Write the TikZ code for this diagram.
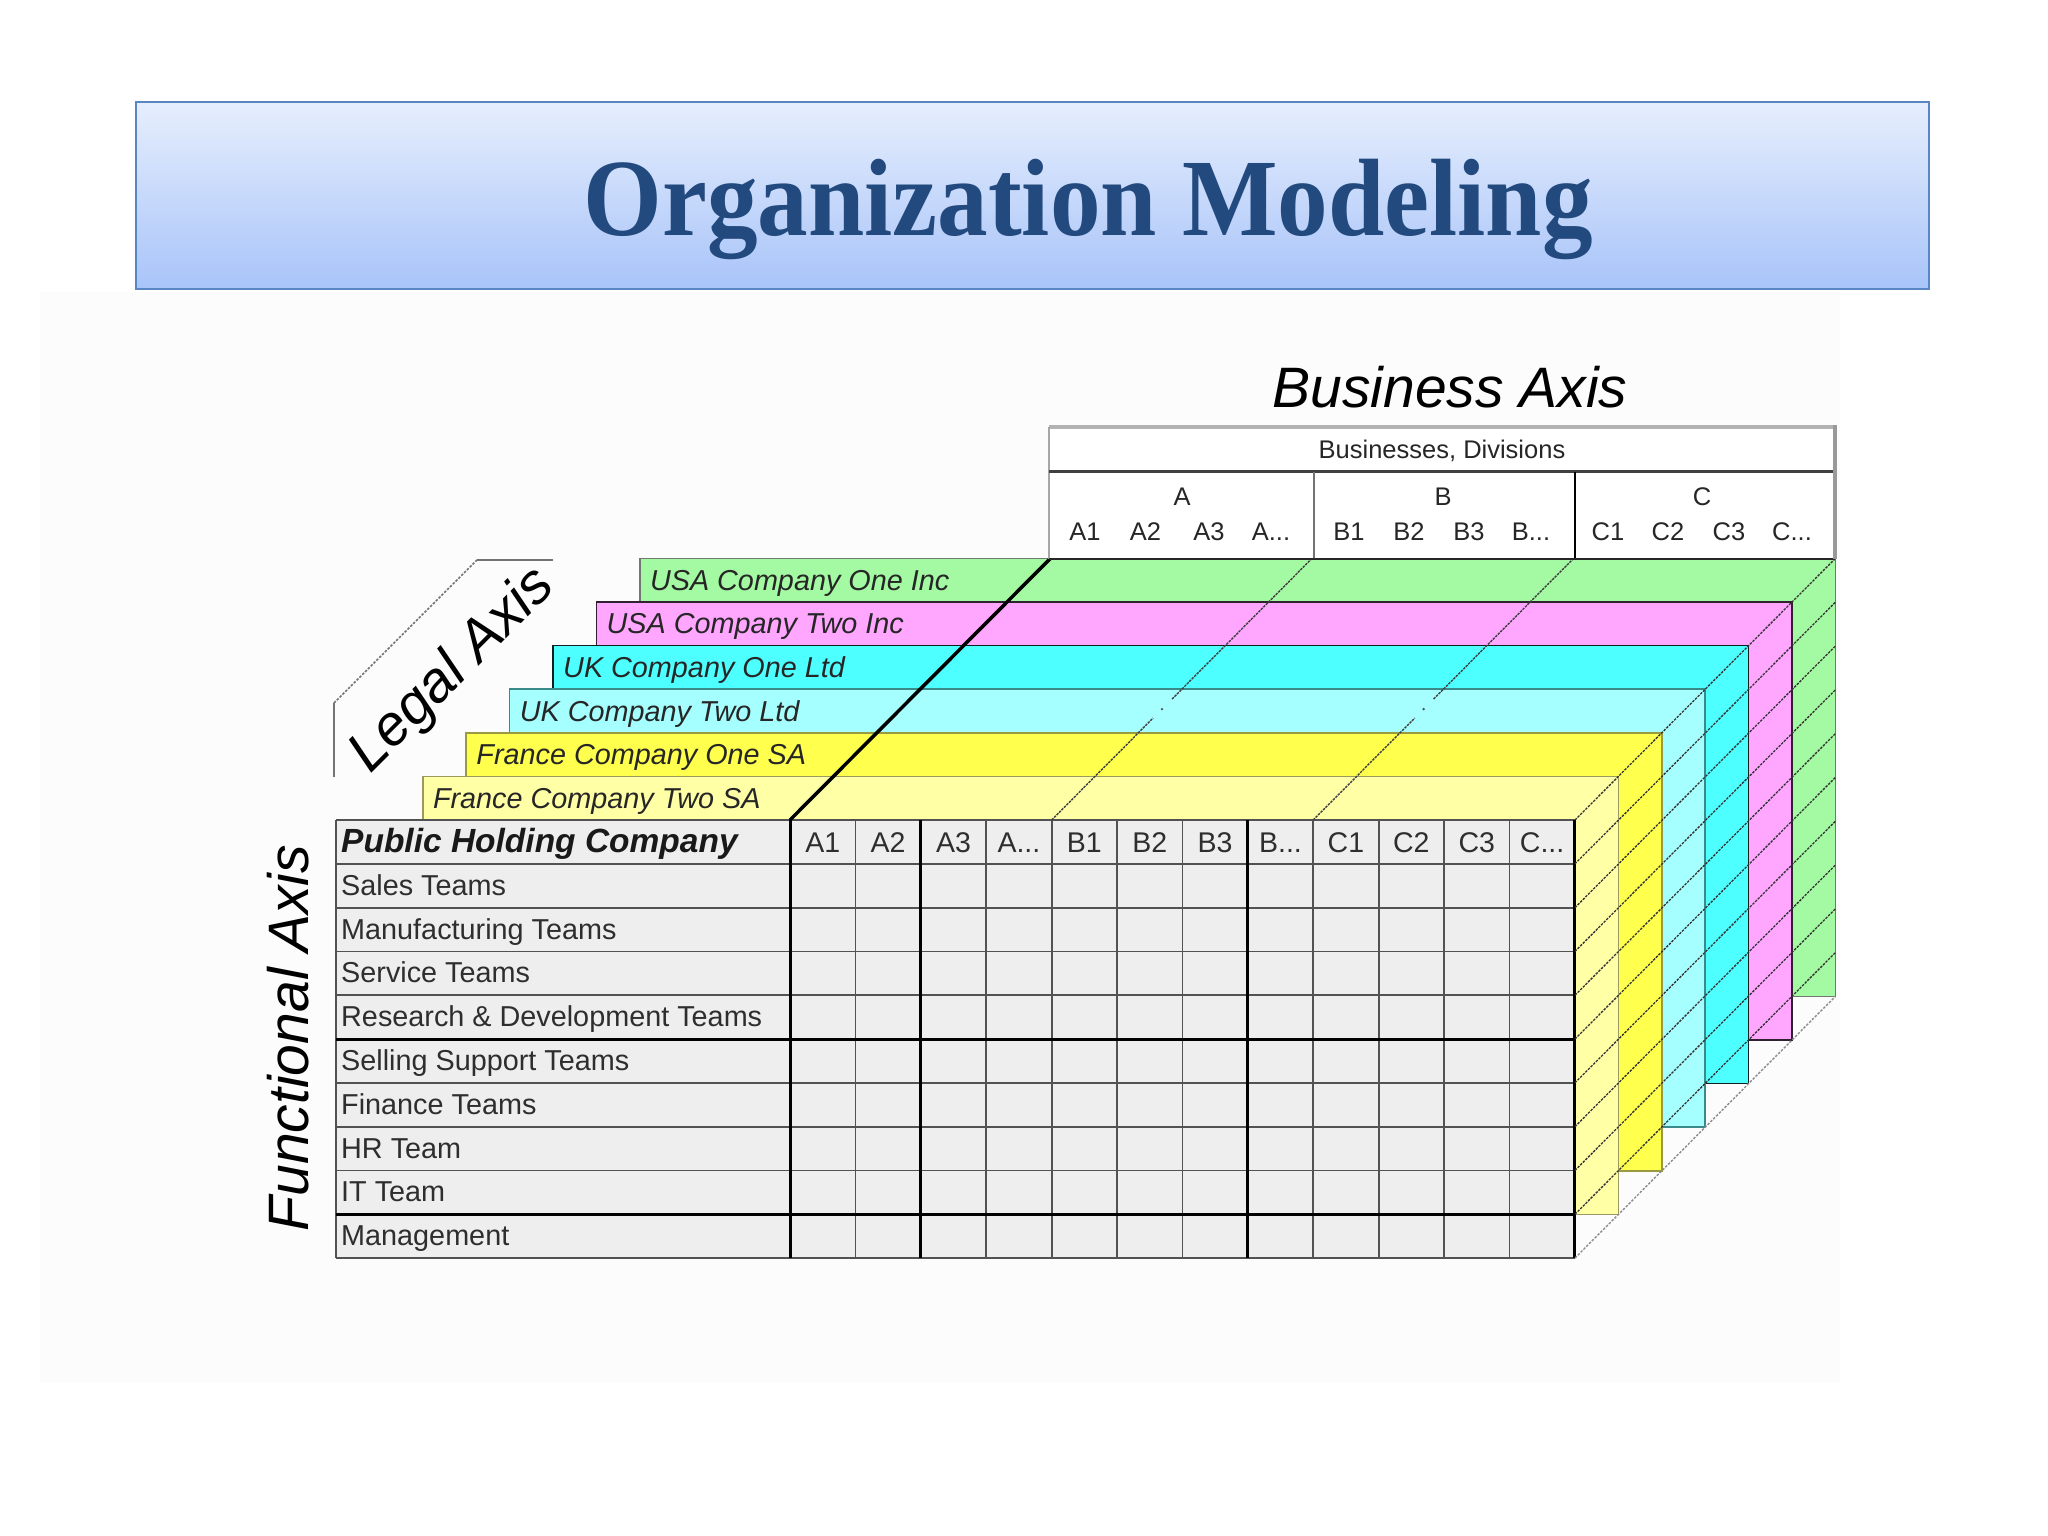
\documentclass[tikz,border=0pt]{standalone}
\usepackage{fontspec}
\setmainfont{Liberation Sans}
\newfontfamily\titlefont[FakeStretch=0.92]{Liberation Serif}
\usetikzlibrary{calc}
\newcommand{\mydots}{...}
\definecolor{ttlblue}{HTML}{234A7E}
\definecolor{ttltop}{HTML}{E6EEFD}
\definecolor{ttlbot}{HTML}{A8C4F9}
\definecolor{ttlborder}{HTML}{5A86C4}
\definecolor{cgreen}{HTML}{A4FAA2}
\definecolor{cpink}{HTML}{FFA6FF}
\definecolor{ccyan}{HTML}{4EFFFF}
\definecolor{clcyan}{HTML}{A6FFFF}
\definecolor{cyellow}{HTML}{FFFF4E}
\definecolor{clyellow}{HTML}{FFFFA6}
\definecolor{bgreen}{HTML}{707870}
\definecolor{bpink}{HTML}{302030}
\definecolor{bcyan}{HTML}{102020}
\definecolor{blcyan}{HTML}{3A8A8A}
\definecolor{byellow}{HTML}{9A9A40}
\definecolor{blyellow}{HTML}{9A9A60}
\definecolor{cellgray}{HTML}{EEEEEE}
\definecolor{bgfaint}{HTML}{FCFCFC}
\tikzset{
  titlebox/.style={draw=ttlborder, line width=2.5pt, top color=ttltop, bottom color=ttlbot, inner sep=0},
  titletext/.style={font=\titlefont\bfseries\fontsize{110}{115}\selectfont, text=ttlblue, inner sep=0},
  bandtext/.style={font=\fontsize{28.8}{30}\selectfont\itshape, inner sep=0, text=black!85},
  rowtext/.style={font=\fontsize{28.8}{30}\selectfont, inner sep=0, text=black!82},
  phctext/.style={font=\fontsize{33.5}{35}\selectfont\bfseries\itshape, inner sep=0, text=black!90},
  coltext/.style={font=\fontsize{28.5}{30}\selectfont, inner sep=0, text=black!82},
  hdrtext/.style={font=\fontsize{25.5}{27}\selectfont, inner sep=0, text=black!85},
  axistext/.style={font=\fontsize{57}{60}\selectfont\itshape, inner sep=0},
  gridline/.style={draw=black!68, line width=1.8pt},
  gridbold/.style={draw=black, line width=3pt},
  rowdiag/.style={draw=black!80, line width=1.3pt, dash pattern=on 2.5pt off 1.2pt},
  thindiag/.style={draw=black!75, line width=1.4pt, dash pattern=on 2.5pt off 1pt},
  botdiag/.style={draw=black!45, line width=1.4pt, dash pattern=on 2.5pt off 1.5pt},
  bracket/.style={draw=black!55, line width=1.5pt},
}
\begin{document}
\begin{tikzpicture}[x=1pt,y=-1pt]
\useasboundingbox (0,0) rectangle (2048,1536);
\fill[white] (0,0) rectangle (2048,1536);
\fill[bgfaint] (40,292) rectangle (1840,1383);

% title
\node[titlebox, minimum width=1793pt, minimum height=187pt] (titlebox) at (1032.5,195.5) {};
\node[titletext, anchor=base] (title) at (1088,235) {Organization Modeling};

% legal-entity panels (back to front)
\foreach \k/\fc/\bc/\lbl in {6/cgreen/bgreen/USA Company One Inc,
                              5/cpink/bpink/USA Company Two Inc,
                              4/ccyan/bcyan/UK Company One Ltd,
                              3/clcyan/blcyan/UK Company Two Ltd,
                              2/cyellow/byellow/France Company One SA,
                              1/clyellow/blyellow/France Company Two SA}{
  \pgfmathsetmacro\lx{336+43.4*(\k+1)}
  \pgfmathsetmacro\rx{1575+43.4*\k}
  \pgfmathsetmacro\ty{820-43.6*\k}
  \pgfmathsetmacro\by{1258-43.6*\k}
  \pgfmathsetmacro\bl{\ty+21.8+10}
  \draw[fill=\fc, draw=\bc, line width=1.6pt] (\lx,\ty) rectangle (\rx,\by);
  \node[bandtext, anchor=base west] (band\k) at (\lx+10,\bl) {\lbl};
}

% front grid
\fill[cellgray] (336,820) rectangle (1575,1258);
\foreach \i in {0,1,2,3,4,6,7,8,10}
  \draw[gridline] (336,820+43.8*\i) -- (1575,820+43.8*\i);
\draw[gridline] (336,820) -- (336,1258);
\foreach \j in {1,3,4,5,6,8,9,10,11}
  \draw[gridline] (790+65.4*\j,820) -- (790+65.4*\j,1258);
\foreach \i in {5,9}
  \draw[gridbold] (336,820+43.8*\i) -- (1575,820+43.8*\i);
\foreach \j in {0,2,7,12}
  \draw[gridbold] (790+65.4*\j,820) -- (790+65.4*\j,1258);

% row labels
\node[phctext, anchor=base west] (row0) at (341,852.5) {Public Holding Company};
\foreach \i/\t in {1/Sales Teams, 2/Manufacturing Teams, 3/Service Teams,
                   4/Research \& Development Teams, 5/Selling Support Teams,
                   6/Finance Teams, 7/HR Team, 8/IT Team, 9/Management}
  \node[rowtext, anchor=base west] (row\i) at (341,820+43.8*\i+21.9+9.5) {\t};

% column labels
\foreach \j/\t in {0/A1,1/A2,2/A3,3/A\mydots,4/B1,5/B2,6/B3,7/B\mydots,8/C1,9/C2,10/C3,11/C\mydots}
  \node[coltext, anchor=base] (col\j) at (790+65.4*\j+32.7,852) {\t};

% side diagonals (functional rows through the legal layers)
\foreach \i in {0,1,2,3,4,5,6,7,8,9}
  \draw[rowdiag] (1575,820+43.8*\i) -- ++(260.4,-261.6);
\draw[botdiag] (1575,1258) -- ++(260.4,-261.6);

% top diagonals
\coordinate (ta) at (790,820);
\coordinate (tb) at (1050.4,558.4);
\draw[black, line width=3.5pt] (ta) -- (tb);
\coordinate (b0) at (1051.6,820);
\coordinate (b1) at (1312,558.4);
\coordinate (c0) at (1313.2,820);
\coordinate (c1) at (1573.6,558.4);
\draw[thindiag] (b0) -- ($(b0)!0.39!(b1)$);
\draw[thindiag] ($(b0)!0.4625!(b1)$) -- (b1);
\fill[black!70] ($(b0)!0.424!(b1)$) circle (1.3);
\draw[thindiag] (c0) -- ($(c0)!0.39!(c1)$);
\draw[thindiag] ($(c0)!0.4625!(c1)$) -- (c1);
\fill[black!70] ($(c0)!0.424!(c1)$) circle (1.3);

% business header
\fill[white] (1049,427) rectangle (1835,559);
\draw[draw=black!30, line width=4pt] (1049,427) -- (1835,427);
\draw[draw=black!35, line width=1.5pt] (1049,427) -- (1049,559);
\draw[draw=black!75, line width=3pt] (1049,471.5) -- (1835,471.5);
\draw[draw=black!55, line width=2pt] (1314,471.5) -- (1314,559);
\draw[draw=black, line width=2.5pt] (1575,471.5) -- (1575,559);
\draw[draw=black!85, line width=2.5pt] (1049,559) -- (1835,559);
\draw[draw=black!40, line width=4pt] (1835,425) -- (1835,559);
\node[hdrtext, anchor=base] (bizdiv) at (1442,458) {Businesses, Divisions};
\node[hdrtext, anchor=base] (grpA) at (1182,505.5) {A};
\node[hdrtext, anchor=base] (grpB) at (1443,505.5) {B};
\node[hdrtext, anchor=base] (grpC) at (1702,505.5) {C};
\foreach \x/\t/\n in {1085/A1/a1,1145.5/A2/a2,1209/A3/a3,1271/A\mydots/a4,
                      1349/B1/b1,1409/B2/b2,1469/B3/b3,1531/B\mydots/b4,
                      1608/C1/c1,1668/C2/c2,1729/C3/c3,1792/C\mydots/c4}
  \node[hdrtext, anchor=base] (h\n) at (\x,540.7) {\t};

% legal axis bracket
\coordinate (la) at (334,777);
\coordinate (lb) at (334,703);
\coordinate (lc) at (477,560);
\coordinate (ld) at (553,560);
\draw[bracket] (la) -- (lb);
\draw[bracket, dash pattern=on 2.5pt off 1.5pt] (lb) -- (lc);
\draw[bracket] (lc) -- (ld);

% axis titles
\node[axistext] (bizaxis) at (1450,387) {Business Axis};
\node[axistext, rotate=90] (funcaxis) at (288,1038) {Functional Axis};
\node[axistext, rotate=45] (legalaxis) at (453,671) {Legal Axis};
\end{tikzpicture}
\end{document}
